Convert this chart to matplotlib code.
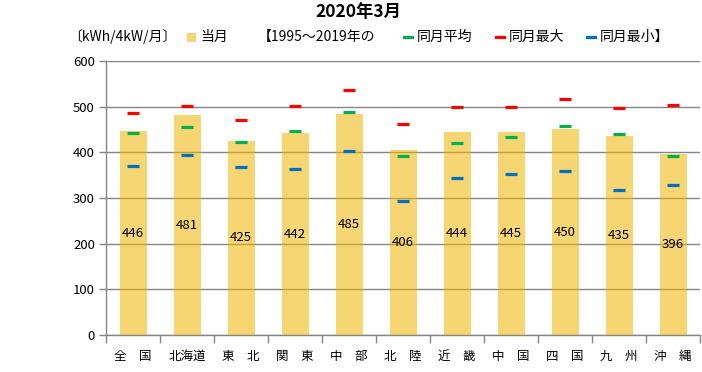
import matplotlib
matplotlib.use("Agg")
import matplotlib.pyplot as plt
import numpy as np
from matplotlib.lines import Line2D
from matplotlib.patches import Rectangle

plt.rcParams['font.family'] = ['Noto Sans CJK JP', 'DejaVu Sans']

regions = ["全　国", "北海道", "東　北", "関　東", "中　部", "北　陸", "近　畿", "中　国", "四　国", "九　州", "沖　縄"]
current = [446, 481, 425, 442, 485, 406, 444, 445, 450, 435, 396]
avg = [443, 456, 423, 447, 488, 392, 421, 434, 458, 441, 392]
vmax = [486, 501, 471, 501, 536, 463, 500, 500, 517, 497, 504]
vmin = [370, 395, 368, 363, 403, 294, 344, 352, 360, 318, 328]

W, H = 702, 372
fig = plt.figure(figsize=(W / 100, H / 100), dpi=100)
ax = fig.add_axes([106 / W, 1 - 335 / H, (700 - 106) / W, (335 - 61) / H])

x = np.arange(len(regions))
grid_c = "#868686"

ax.bar(x, current, width=0.5, color="#F0B400", alpha=0.55, zorder=3)
for xi, v in zip(x, current):
    ax.text(xi, v / 2, str(v), ha="center", va="center", fontsize=9.5, zorder=5)

ms, mew = 8.5, 2.3
ax.plot(x, avg, ls="none", marker="_", ms=ms, mew=mew, color="#00B050", zorder=4)
ax.plot(x, vmax, ls="none", marker="_", ms=ms, mew=mew, color="#FF0000", zorder=4)
ax.plot(x, vmin, ls="none", marker="_", ms=ms, mew=mew, color="#0070C0", zorder=4)

ax.set_xlim(-0.5, len(regions) - 0.5)
ax.set_ylim(0, 600)
ax.set_yticks(range(0, 601, 100))
ax.yaxis.grid(True, color=grid_c, lw=1.0, zorder=0)
ax.set_axisbelow(True)

ax.set_xticks(x)
ax.set_xticklabels(regions, fontsize=9)
ax.set_xticks(np.arange(-0.5, len(regions)), minor=True)
ax.tick_params(axis="x", which="major", length=0, pad=11)
ax.tick_params(axis="x", which="minor", length=6, color=grid_c, width=1)
ax.tick_params(axis="y", length=5, color=grid_c, width=1, labelsize=9.5, pad=3)

for s in ["top", "right"]:
    ax.spines[s].set_visible(False)
for s in ["left", "bottom"]:
    ax.spines[s].set_color(grid_c)
    ax.spines[s].set_linewidth(1.0)

# title and legend row
fig.text(358 / W, 1 - 12 / H, "2020年3月", ha="center", va="center", fontsize=12.5, fontweight="bold")
ly = 1 - 37 / H
fs = 10
fig.text(68 / W, ly, "〔kWh/4kW/月〕", ha="left", va="center", fontsize=fs)
fig.patches.append(Rectangle((187 / W, 1 - 42 / H), 9 / W, 9 / H, transform=fig.transFigure,
                             facecolor="#F0B400", alpha=0.55, edgecolor="none"))
fig.text(200 / W, ly, "当月", ha="left", va="center", fontsize=fs)
fig.text(258 / W, ly, "【1995～2019年の", ha="left", va="center", fontsize=fs)
for x0, c, lab in [(404, "#00B050", "同月平均"), (496, "#FF0000", "同月最大"), (587, "#0070C0", "同月最小】")]:
    fig.lines.append(Line2D([x0 / W, (x0 + 8) / W], [ly, ly], transform=fig.transFigure, color=c, lw=2.3))
    fig.text((x0 + 13) / W, ly, lab, ha="left", va="center", fontsize=fs)

fig.savefig("out.png", dpi=100)
